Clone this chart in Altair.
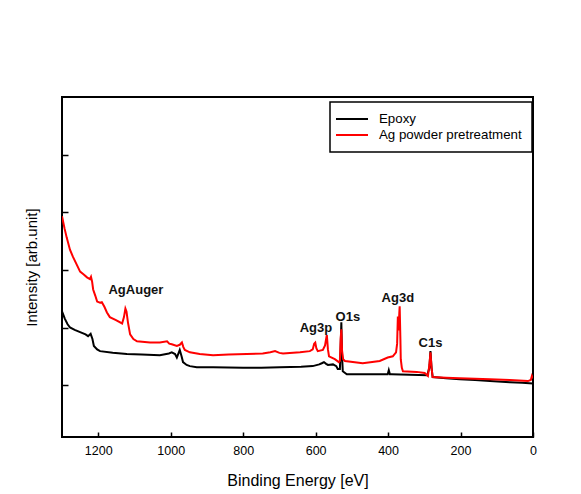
import altair as alt
import pandas as pd

# ---- data ----
series_names = ["Epoxy", "Ag powder pretreatment"]
series_colors = ["#000000", "#ff0000"]

epoxy_energy = [1300, 1292, 1285, 1278, 1265, 1250, 1235, 1228, 1221, 1216, 1212, 1203, 1195,
                1160, 1121, 1080, 1030, 1005, 997, 988, 983, 978, 975, 970, 966, 956, 947,
                928, 883, 800, 750, 699, 640, 608, 590, 583, 577, 571, 566, 552, 543, 539,
                533, 531, 529, 527, 525, 514, 470, 423, 401, 398, 395, 390, 340, 292, 286,
                283, 280, 277, 240, 202, 160, 119, 64, 30, 0]
epoxy_intensity = [1.28, 1.15, 1.06, 1.00, 0.96, 0.92, 0.88, 0.85, 0.89, 0.80, 0.68, 0.62, 0.59,
                   0.56, 0.54, 0.53, 0.52, 0.55, 0.57, 0.54, 0.48, 0.56, 0.61, 0.50, 0.40, 0.35, 0.33,
                   0.31, 0.31, 0.30, 0.30, 0.31, 0.32, 0.33, 0.36, 0.38, 0.40, 0.37, 0.35, 0.36, 0.33, 0.28,
                   0.28, 0.60, 1.09, 0.50, 0.24, 0.19, 0.19, 0.19, 0.19, 0.26, 0.19, 0.19, 0.18, 0.17, 0.30,
                   0.59, 0.30, 0.14, 0.12, 0.10, 0.09, 0.07, 0.05, 0.04, 0.03]

ag_energy = [1300, 1293, 1287, 1278, 1270, 1260, 1250, 1240, 1231, 1223, 1220, 1217, 1214, 1208,
             1203, 1195, 1190, 1183, 1176, 1168, 1151, 1134, 1129, 1125, 1122, 1118, 1112, 1103,
             1093, 1057, 1030, 1010, 1004, 997, 983, 975, 969, 965, 961, 947, 920, 883, 840, 790,
             746, 725, 712, 700, 690, 643, 616, 608, 604, 601, 598, 594, 580, 574, 571, 569, 566,
             563, 547, 536, 533, 531, 529, 527, 524, 519, 470, 423, 401, 387, 378, 375, 373, 371,
             369, 368, 366, 365, 362, 359, 321, 299, 290, 286, 283, 280, 277, 240, 202, 160, 119,
             64, 14, 6, 3, 0]
ag_intensity = [2.93, 2.72, 2.56, 2.35, 2.23, 2.10, 1.97, 1.92, 1.87, 1.84, 1.88, 1.80, 1.66, 1.55,
                1.45, 1.43, 1.44, 1.36, 1.26, 1.18, 1.13, 1.07, 1.18, 1.33, 1.28, 1.09, 0.88, 0.80,
                0.76, 0.74, 0.74, 0.76, 0.72, 0.71, 0.68, 0.70, 0.74, 0.66, 0.61, 0.57, 0.54, 0.52, 0.53, 0.54,
                0.55, 0.57, 0.59, 0.56, 0.55, 0.57, 0.59, 0.62, 0.72, 0.74, 0.64, 0.59, 0.61, 0.69, 0.80, 0.87, 0.62,
                0.50, 0.45, 0.40, 0.42, 0.80, 0.97, 0.60, 0.45, 0.42, 0.38, 0.42, 0.48, 0.50, 0.57, 0.72, 1.19, 0.95,
                1.25, 1.37, 0.80, 0.45, 0.30, 0.24, 0.23, 0.21, 0.16, 0.35, 0.57, 0.30, 0.14, 0.13, 0.12, 0.11, 0.10,
                0.09, 0.07, 0.09, 0.16, 0.12]

peak_labels = ["AgAuger", "Ag3p", "O1s", "Ag3d", "C1s"]
peak_label_energy = [1096, 599, 511, 373, 283]
peak_label_intensity = [1.645, 0.99, 1.19, 1.52, 0.73]

x_ticks = [1200, 1000, 800, 600, 400, 200, 0]
y_ticks = [0, 1, 2, 3, 4]

# ---- tables ----
lines_df = pd.concat([
    pd.DataFrame({"energy": epoxy_energy, "intensity": epoxy_intensity, "series": series_names[0]}),
    pd.DataFrame({"energy": ag_energy, "intensity": ag_intensity, "series": series_names[1]}),
], ignore_index=True)
labels_df = pd.DataFrame({"energy": peak_label_energy, "intensity": peak_label_intensity,
                          "label": peak_labels})

FONT = "Liberation Sans"

X = alt.X("energy:Q",
          scale=alt.Scale(domain=[1300, 0], nice=False, zero=False),
          axis=alt.Axis(values=x_ticks, format="d", offset=-5, tickSize=5, tickWidth=1.5,
                        tickColor="black", domain=False, grid=False, labelFlush=False,
                        labelFont=FONT, labelFontSize=12.5, labelColor="black", labelPadding=7,
                        title="Binding Energy [eV]", titleFont=FONT, titleFontSize=16,
                        titleFontWeight="normal", titleColor="black", titlePadding=16))
Y = alt.Y("intensity:Q",
          scale=alt.Scale(domain=[-0.9, 5], nice=False, zero=False),
          axis=alt.Axis(values=y_ticks, labels=False, offset=-6, tickSize=6, tickWidth=1.5,
                        tickColor="black", domain=False, grid=False,
                        title="Intensity [arb.unit]", titleFont=FONT, titleFontSize=15,
                        titleFontWeight="normal", titleColor="black", titlePadding=22))

lines = alt.Chart(lines_df).mark_line(strokeWidth=2, clip=True).encode(
    x=X, y=Y,
    color=alt.Color("series:N",
                    scale=alt.Scale(domain=series_names, range=series_colors),
                    sort=series_names,
                    legend=alt.Legend(title=None, orient="none", legendX=268, legendY=5,
                                      direction="vertical", symbolType="M-2.667,0H2.667",
                                      symbolSize=144, symbolStrokeWidth=2, symbolOffset=5,
                                      labelFont=FONT, labelFontSize=13.3, labelColor="black",
                                      labelOffset=20, strokeColor="black", fillColor="white",
                                      padding=10, rowPadding=2)),
)

texts = alt.Chart(labels_df).mark_text(font=FONT, fontSize=13, fontWeight="bold",
                                       color="#111111").encode(
    x=X, y=Y, text="label:N")

chart = alt.layer(lines, texts).properties(
    width=471, height=340,
    autosize=alt.AutoSizeParams(type="none"),
    padding={"left": 54, "top": 89, "right": 30, "bottom": 52},
    background="white",
).configure_view(stroke="black", strokeWidth=2).configure_legend(strokeWidth=1.5)

chart.save("out.html", embed_options={"renderer": "svg", "actions": False})
